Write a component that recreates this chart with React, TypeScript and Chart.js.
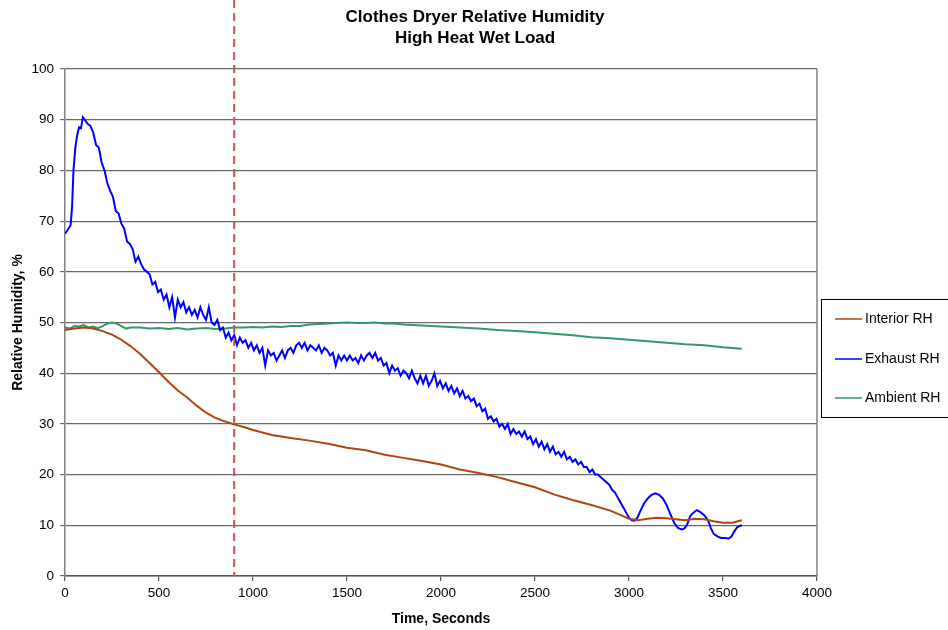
import React, { useEffect, useRef } from 'react';
import { Chart, registerables } from 'chart.js';

Chart.register(...registerables);

const titleLines = ['Clothes Dryer Relative Humidity', 'High Heat Wet Load'];
const xAxisTitle = 'Time, Seconds';
const yAxisTitle = 'Relative Humidity, %';
const markerTime = 900;

const seriesNames = ['Interior RH', 'Exhaust RH', 'Ambient RH'];
const seriesColors = ['#B0450F', '#0000FF', '#339966'];

// Interior RH
const interiorTimes = [0, 50, 100, 150, 200, 250, 300, 350, 400, 450, 500, 550, 600, 650, 700, 750, 800, 850, 900, 950, 1000, 1100, 1200, 1300, 1400, 1500, 1600, 1700, 1800, 1900, 2000, 2100, 2200, 2300, 2400, 2500, 2600, 2700, 2800, 2900, 2950, 3000, 3050, 3100, 3150, 3200, 3250, 3300, 3350, 3400, 3450, 3500, 3550, 3600];
const interiorValues = [48.5, 48.8, 49.0, 48.8, 48.3, 47.6, 46.6, 45.3, 43.8, 42.0, 40.2, 38.3, 36.6, 35.2, 33.6, 32.2, 31.2, 30.5, 29.9, 29.4, 28.8, 27.8, 27.2, 26.7, 26.1, 25.3, 24.8, 23.9, 23.3, 22.7, 22.0, 21.0, 20.3, 19.5, 18.5, 17.5, 16.1, 15.0, 14.0, 12.9, 12.1, 11.3, 11.0, 11.3, 11.5, 11.4, 11.2, 11.0, 11.3, 11.2, 10.8, 10.5, 10.5, 11.0];

// Exhaust RH: start segment
const exhaustStartTimes = [0, 15, 30, 38, 45, 55, 65, 75, 85, 95];
const exhaustStartValues = [67.5, 68.3, 69.2, 73.0, 80.0, 84.5, 87.0, 88.5, 88.3, 90.5];
// Exhaust RH: noisy middle segment, sampled every 15 s from 105 s
const exhaustNoisyStart = 105;
const exhaustNoisyStep = 15;
const exhaustNoisyValues = [
  90.0, 89.2, 88.8, 87.5, 85.0, 84.5, 81.5, 80.0, 77.5, 76.0,
  74.8, 72.0, 71.5, 69.5, 68.5, 66.0, 65.5, 64.5, 62.0, 63.0,
  61.5, 60.5, 60.0, 59.5, 57.5, 58.0, 56.0, 56.5, 54.5, 55.5,
  53.0, 55.0, 51.0, 54.5, 53.0, 54.0, 52.0, 53.0, 51.5, 52.5,
  51.0, 53.0, 51.5, 50.5, 53.0, 50.0, 49.5, 50.5, 48.5, 49.0,
  47.0, 48.0, 46.5, 47.5, 45.5, 47.0, 46.0, 46.5, 45.0, 46.0,
  44.5, 45.5, 44.0, 45.0, 41.5, 44.5, 43.5, 44.0, 42.5, 43.5,
  44.5, 43.0, 44.5, 45.0, 44.0, 45.5, 46.0, 45.0, 46.0, 44.5,
  45.5, 45.0, 44.5, 45.5, 44.0, 45.0, 44.5, 43.5, 44.0, 41.5,
  43.5, 42.5, 43.5, 42.5, 43.5, 42.5, 43.0, 42.0, 43.5, 42.5,
  43.5, 44.0, 43.0, 44.0, 42.5, 43.0, 41.5, 42.0, 40.0, 41.5,
  40.5, 41.0, 39.5, 40.5, 40.0, 39.0, 40.5, 39.0, 38.0, 39.5,
  38.0, 39.5, 37.5, 38.5, 40.0, 37.5, 38.5, 37.0, 38.0, 36.5,
  37.5, 36.0, 37.0, 35.5, 36.5, 35.0, 35.5, 34.5, 35.0, 33.5,
  34.0, 32.5, 33.0, 31.0, 31.5, 30.5, 31.0, 29.5, 30.0, 29.0,
  30.0, 28.0, 29.0, 28.0, 28.5, 27.5, 28.5, 27.0, 27.5, 26.0,
  27.0, 25.5, 26.5, 25.0, 26.0, 24.5, 25.5, 24.0, 24.5, 23.5,
  24.5, 23.0, 23.5, 22.5, 23.0, 22.0, 22.5, 21.5, 21.5, 20.5,
  21.0, 20.0, 20.0, 19.5, 19.0, 18.5, 18.0, 17.0, 16.5, 15.5,
  14.5, 13.5, 12.5, 11.5,
];
// Exhaust RH: smooth oscillating tail
const exhaustTailTimes = [3015, 3030, 3045, 3060, 3080, 3100, 3120, 3140, 3160, 3180, 3200, 3220, 3240, 3260, 3280, 3295, 3310, 3325, 3340, 3360, 3380, 3400, 3420, 3435, 3450, 3470, 3490, 3510, 3530, 3545, 3560, 3575, 3590, 3600];
const exhaustTailValues = [11.0, 10.9, 11.5, 12.8, 14.3, 15.3, 16.0, 16.3, 16.0, 15.3, 14.0, 12.2, 10.5, 9.5, 9.2, 9.4, 10.2, 11.8, 12.4, 13.0, 12.6, 12.0, 11.0, 9.5, 8.3, 7.8, 7.5, 7.5, 7.4, 7.8, 8.8, 9.6, 9.9, 10.0];

// Ambient RH
const ambientTimes = [0, 25, 50, 75, 100, 125, 150, 175, 200, 225, 250, 275, 300, 325, 350, 400, 450, 500, 550, 600, 650, 700, 750, 800, 850, 900, 950, 1000, 1050, 1100, 1150, 1200, 1250, 1300, 1350, 1400, 1450, 1500, 1550, 1600, 1650, 1700, 1750, 1800, 1850, 1900, 1950, 2000, 2100, 2200, 2300, 2400, 2500, 2600, 2700, 2800, 2900, 3000, 3100, 3200, 3300, 3400, 3500, 3600];
const ambientValues = [49.0, 48.8, 49.3, 49.2, 49.5, 49.0, 49.2, 48.9, 49.3, 49.8, 50.0, 49.8, 49.3, 48.8, 49.0, 49.0, 48.8, 48.9, 48.7, 48.9, 48.6, 48.8, 48.9, 48.7, 48.8, 49.0, 49.0, 49.1, 49.0, 49.2, 49.1, 49.3, 49.3, 49.6, 49.7, 49.8, 49.9, 50.0, 49.9, 49.9, 50.0, 49.8, 49.8, 49.6, 49.5, 49.4, 49.3, 49.2, 49.0, 48.8, 48.5, 48.3, 48.1, 47.8, 47.5, 47.1, 46.9, 46.6, 46.3, 46.0, 45.7, 45.5, 45.1, 44.8];

const xMin = 0, xMax = 4000, xStep = 500;
const yMin = 0, yMax = 100, yStep = 10;

const FONT = '"Liberation Sans", Arial, Helvetica, sans-serif';

function pairs(ts: number[], vs: number[]) {
  return ts.map((t, i) => ({ x: t, y: vs[i] }));
}

function exhaustData() {
  const noisyTimes = exhaustNoisyValues.map((_, i) => exhaustNoisyStart + i * exhaustNoisyStep);
  return [
    ...pairs(exhaustStartTimes, exhaustStartValues),
    ...pairs(noisyTimes, exhaustNoisyValues),
    ...pairs(exhaustTailTimes, exhaustTailValues),
  ];
}

const decorPlugin = {
  id: 'decor',
  afterDraw(chart: any) {
    const ctx = chart.ctx as CanvasRenderingContext2D;
    const area = chart.chartArea;
    const xs = chart.scales.x;
    ctx.save();
    // right border of plot
    ctx.strokeStyle = '#808080';
    ctx.lineWidth = 1.5;
    ctx.beginPath();
    ctx.moveTo(area.right, area.top);
    ctx.lineTo(area.right, area.bottom);
    ctx.stroke();
    // dashed marker line
    const px = xs.getPixelForValue(markerTime);
    ctx.strokeStyle = '#C8504F';
    ctx.lineWidth = 2;
    ctx.setLineDash([8, 5]);
    ctx.beginPath();
    ctx.moveTo(px, 0);
    ctx.lineTo(px, area.bottom);
    ctx.stroke();
    ctx.setLineDash([]);
    // title
    ctx.fillStyle = '#000';
    ctx.font = `bold 17px ${FONT}`;
    ctx.textAlign = 'center';
    ctx.textBaseline = 'middle';
    ctx.fillText(titleLines[0], 475, 17);
    ctx.fillText(titleLines[1], 475, 38);
    // legend box
    ctx.strokeStyle = '#000';
    ctx.lineWidth = 1;
    ctx.strokeRect(821.5, 299.5, 200, 118);
    ctx.font = `14px ${FONT}`;
    ctx.textAlign = 'left';
    const rows = [319, 359, 398];
    seriesNames.forEach((name, i) => {
      ctx.strokeStyle = seriesColors[i];
      ctx.lineWidth = 1.5;
      ctx.beginPath();
      ctx.moveTo(835, rows[i]);
      ctx.lineTo(862, rows[i]);
      ctx.stroke();
      ctx.fillStyle = '#000';
      ctx.fillText(name, 865, rows[i] + 0.5);
    });
    ctx.restore();
  },
};

export default function App() {
  const ref = useRef<HTMLCanvasElement | null>(null);
  useEffect(() => {
    if (!ref.current) return;
    const chart = new Chart(ref.current, {
      type: 'line',
      data: {
        datasets: [
          {
            label: seriesNames[0],
            data: pairs(interiorTimes, interiorValues),
            borderColor: seriesColors[0],
            borderWidth: 2,
            pointRadius: 0,
            tension: 0,
          },
          {
            label: seriesNames[1],
            data: exhaustData(),
            borderColor: seriesColors[1],
            borderWidth: 2,
            pointRadius: 0,
            tension: 0,
          },
          {
            label: seriesNames[2],
            data: pairs(ambientTimes, ambientValues),
            borderColor: seriesColors[2],
            borderWidth: 2,
            pointRadius: 0,
            tension: 0,
          },
        ],
      },
      options: {
        responsive: false,
        animation: false,
        events: [],
        layout: { padding: { left: 0, top: 69, right: 131, bottom: 0 } },
        plugins: {
          legend: { display: false },
          title: { display: false },
          tooltip: { enabled: false },
        },
        scales: {
          x: {
            type: 'linear',
            min: xMin,
            max: xMax,
            ticks: {
              stepSize: xStep,
              color: '#000',
              font: { family: FONT, size: 13.5 },
              padding: 4,
              maxRotation: 0,
              callback: (v: any) => String(v),
            },
            grid: { drawOnChartArea: false, drawTicks: true, tickLength: 5, color: '#555', lineWidth: 1.2 },
            border: { color: '#555', width: 1.5 },
            title: { display: true, text: xAxisTitle, color: '#000', font: { family: FONT, size: 14, weight: 'bold' }, padding: { top: 0, bottom: 2 } },
            afterFit: (s: any) => { s.height = 54; },
          },
          y: {
            min: yMin,
            max: yMax,
            ticks: { stepSize: yStep, color: '#000', font: { family: FONT, size: 13.5 }, padding: 6 },
            grid: { color: '#6a6a6a', lineWidth: 1.2, tickLength: 5 },
            border: { color: '#808080', width: 1.5 },
            title: { display: true, text: yAxisTitle, color: '#000', font: { family: FONT, size: 14, weight: 'bold' }, padding: { top: 10, bottom: 0 } },
            afterFit: (s: any) => { s.width = 65; },
          },
        },
      },
      plugins: [decorPlugin],
    } as any);
    return () => chart.destroy();
  }, []);
  return (
    <div style={{ position: 'absolute', left: 0, top: 0, width: 948, height: 630, background: '#fff' }}>
      <canvas ref={ref} width={948} height={630} style={{ width: 948, height: 630, display: 'block' }} />
    </div>
  );
}
